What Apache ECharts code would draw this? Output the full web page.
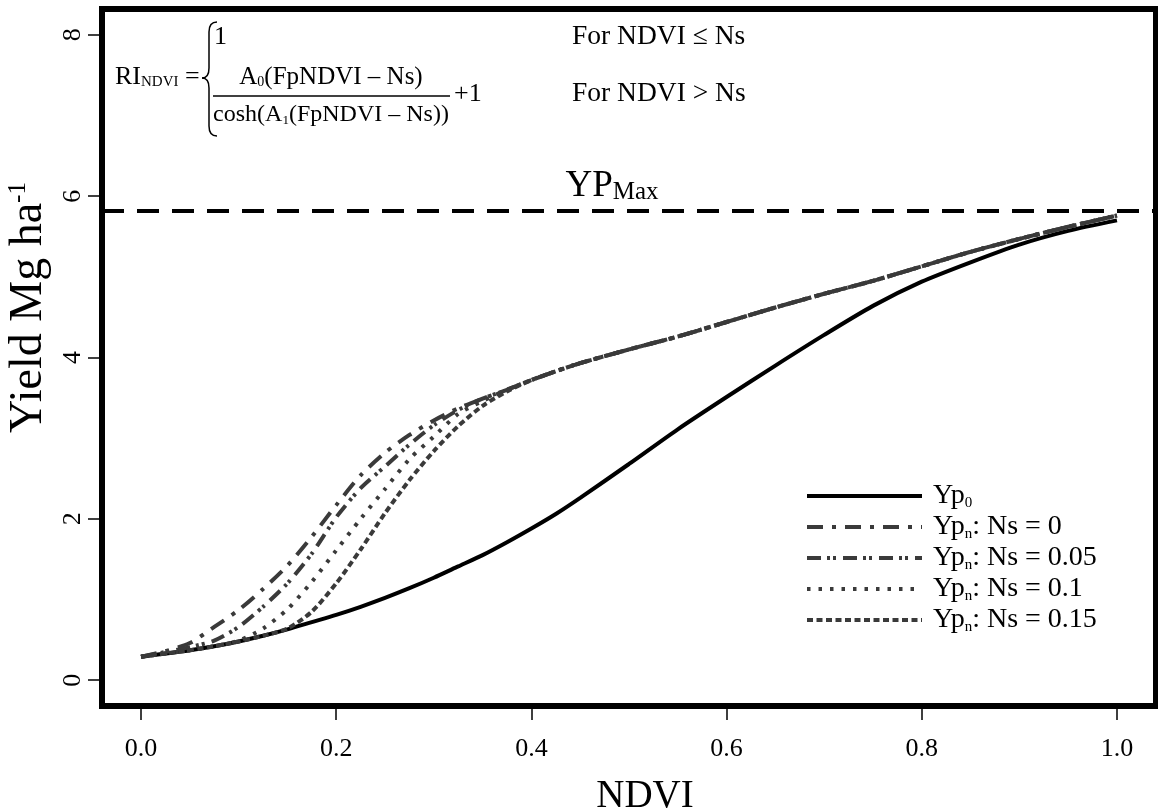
<!DOCTYPE html>
<html>
<head>
<meta charset="utf-8">
<script src="https://cdn.jsdelivr.net/npm/echarts@6/dist/echarts.min.js"></script>
<style>
    html, body { margin: 0; padding: 0; background: #fff; }
    #chart { width: 1158px; height: 812px; }
</style>
</head>
<body>
<div id="chart"></div>
<script>
    // values
    var ndvi = [0, 0.025, 0.05, 0.075, 0.1, 0.125, 0.15, 0.175, 0.2, 0.225, 0.25, 0.275, 0.3, 0.325, 0.35,
        0.375, 0.4, 0.425, 0.45, 0.5, 0.55, 0.6, 0.65, 0.7, 0.75, 0.8, 0.85, 0.9, 0.95, 1.0];
    var yp0 = [0.29, 0.33, 0.37, 0.42, 0.48, 0.55, 0.63, 0.72, 0.81, 0.91, 1.02, 1.14, 1.27, 1.41, 1.55,
        1.71, 1.88, 2.06, 2.26, 2.68, 3.11, 3.51, 3.90, 4.28, 4.64, 4.94, 5.18, 5.40, 5.57, 5.70];
    var ypNs0 = [0.29, 0.36, 0.46, 0.66, 0.87, 1.13, 1.42, 1.78, 2.17, 2.54, 2.82, 3.04, 3.22, 3.37, 3.49,
        3.60, 3.72, 3.83, 3.93, 4.10, 4.26, 4.44, 4.62, 4.79, 4.95, 5.13, 5.31, 5.47, 5.62, 5.76];
    var ypNs005 = [0.29, 0.35, 0.41, 0.49, 0.66, 0.91, 1.20, 1.57, 2.02, 2.38, 2.65, 2.92, 3.16, 3.35, 3.49,
        3.60, 3.72, 3.83, 3.93, 4.10, 4.26, 4.44, 4.62, 4.79, 4.95, 5.13, 5.31, 5.47, 5.62, 5.76];
    var ypNs01 = [0.29, 0.33, 0.37, 0.42, 0.49, 0.64, 0.88, 1.22, 1.61, 2.00, 2.37, 2.74, 3.02, 3.30, 3.46,
        3.60, 3.72, 3.83, 3.93, 4.10, 4.26, 4.44, 4.62, 4.79, 4.95, 5.13, 5.31, 5.47, 5.62, 5.76];
    var ypNs015 = [0.29, 0.33, 0.37, 0.42, 0.48, 0.55, 0.64, 0.85, 1.20, 1.62, 2.07, 2.48, 2.84, 3.15, 3.40,
        3.58, 3.72, 3.83, 3.93, 4.10, 4.26, 4.44, 4.62, 4.79, 4.95, 5.13, 5.31, 5.47, 5.62, 5.76];
    var ypMax = 5.82;
    var xTicks = [0, 0.2, 0.4, 0.6, 0.8, 1.0];
    var yTicks = [0, 2, 4, 6, 8];
    var seriesNames = ['Yp0', 'Ypn: Ns = 0', 'Ypn: Ns = 0.05', 'Ypn: Ns = 0.1', 'Ypn: Ns = 0.15'];

    var SERIF = '"Liberation Serif", "Times New Roman", serif';
    var GREY = '#3a3a3a';

    function pairs(ys) {
        return ndvi.map(function (x, i) { return [x, ys[i]]; });
    }

    function curve(name, ys, color, dash) {
        return {
            name: name,
            type: 'line',
            data: pairs(ys),
            smooth: 0.25,
            symbol: 'none',
            lineStyle: { color: color, width: 4, type: dash, cap: 'butt' },
            itemStyle: { color: color }
        };
    }

    function txt(x, y, text, align, size) {
        size = size || 25;
        return {
            type: 'text', x: x, y: y,
            style: {
                text: text, fill: '#000', fontFamily: SERIF, fontSize: size,
                align: align || 'left', verticalAlign: 'middle',
                rich: {
                    n: { fontFamily: SERIF, fontSize: size, color: '#000' },
                    s: { fontFamily: SERIF, fontSize: Math.round(size * 0.56), color: '#000', verticalAlign: 'bottom' }
                }
            }
        };
    }

    function stroke(type, shape) {
        return { type: type, shape: shape, style: { fill: 'none', stroke: '#000', lineWidth: 1.5 } };
    }

    var chart = echarts.init(document.getElementById('chart'));
    var yp0Series = curve(seriesNames[0], yp0, '#000', 'solid');
    yp0Series.z = 3;
    yp0Series.markLine = {
        silent: true,
        symbol: 'none',
        animation: false,
        lineStyle: { color: '#000', width: 4, type: [22, 13] },
        label: {
            show: true,
            position: 'insideMiddleTop',
            distance: 6,
            padding: [0, 34, 0, 0],
            formatter: '{a|YP}{b|Max}',
            rich: {
                a: { fontFamily: SERIF, fontSize: 37, color: '#000' },
                b: { fontFamily: SERIF, fontSize: 25, color: '#000', verticalAlign: 'bottom' }
            }
        },
        data: [{ yAxis: ypMax }]
    };

    chart.setOption({
        animation: false,
        backgroundColor: '#fff',
        grid: {
            left: 102, right: 2, top: 9, bottom: 106,
            show: true, borderColor: '#000', borderWidth: 6,
            backgroundColor: 'transparent',
            outerBoundsMode: 'none'
        },
        xAxis: {
            type: 'value', min: -0.04, max: 1.04,
            name: 'NDVI', nameLocation: 'middle', nameGap: 71,
            nameTextStyle: { fontFamily: SERIF, fontSize: 39, color: '#000', padding: [0, 0, 0, 32] },
            axisLine: { show: false, onZero: false },
            splitLine: { show: false },
            axisTick: { show: true, customValues: xTicks, length: 14, lineStyle: { color: '#000', width: 1.5 } },
            axisLabel: {
                customValues: xTicks, margin: 30, color: '#000', fontFamily: SERIF, fontSize: 26,
                formatter: function (v) { return v.toFixed(1); }
            }
        },
        yAxis: {
            type: 'value', min: -0.32, max: 8.32,
            name: '{n|Yield Mg ha}{p|-1}', nameLocation: 'middle', nameGap: 31, nameRotate: 90,
            nameTextStyle: {
                padding: [0, 0, 0, 100],
                rich: {
                    n: { fontFamily: SERIF, fontSize: 46, color: '#000' },
                    p: { fontFamily: SERIF, fontSize: 25, color: '#000', verticalAlign: 'top' }
                }
            },
            axisLine: { show: false, onZero: false },
            splitLine: { show: false },
            axisTick: { show: true, customValues: yTicks, length: 14, lineStyle: { color: '#000', width: 1.5 } },
            axisLabel: {
                customValues: yTicks, rotate: 90, margin: 16, color: '#000', fontFamily: SERIF, fontSize: 26,
                formatter: function (v) { return String(v); }
            }
        },
        legend: {
            orient: 'vertical', left: 805, top: 482, padding: 0,
            itemWidth: 115, itemHeight: 14, itemGap: 2,
            data: seriesNames,
            itemStyle: { color: 'transparent', borderWidth: 0, opacity: 0 },
            lineStyle: { width: 4 },
            formatter: function (name) {
                var rest = name.slice(3);
                return '{m|Yp}{s|' + name.charAt(2) + '}' + (rest ? '{m|' + rest + '}' : '');
            },
            textStyle: {
                padding: [0, 0, 0, 6],
                rich: {
                    m: { fontFamily: SERIF, fontSize: 28, color: '#000', lineHeight: 30 },
                    s: { fontFamily: SERIF, fontSize: 15, color: '#000', lineHeight: 15, verticalAlign: 'bottom' }
                }
            }
        },
        graphic: [
            txt(115, 77, '{n|RI}{s|NDVI}{n| =}', 'left', 26),
            // the curly brace of the piecewise formula
            stroke('bezierCurve', { x1: 217, y1: 22, x2: 209, y2: 32, cpx1: 209, cpy1: 22 }),
            stroke('line', { x1: 209, y1: 32, x2: 209, y2: 68 }),
            stroke('bezierCurve', { x1: 209, y1: 68, x2: 202, y2: 78, cpx1: 209, cpy1: 78 }),
            stroke('bezierCurve', { x1: 202, y1: 78, x2: 209, y2: 88, cpx1: 209, cpy1: 78 }),
            stroke('line', { x1: 209, y1: 88, x2: 209, y2: 126 }),
            stroke('bezierCurve', { x1: 209, y1: 126, x2: 217, y2: 136, cpx1: 209, cpy1: 136 }),
            txt(214, 37, '1', 'left', 26),
            txt(572, 37, 'For NDVI ≤ Ns', 'left', 27.5),
            txt(331, 77, '{n|A}{s|0}{n|(FpNDVI – Ns)}', 'center', 25),
            stroke('line', { x1: 213, y1: 96, x2: 450, y2: 96 }),
            txt(331, 115, '{n|cosh(A}{s|1}{n|(FpNDVI – Ns))}', 'center', 24),
            txt(454, 94, '+1', 'left', 26),
            txt(572, 94, 'For NDVI > Ns', 'left', 27.5)
        ],
        series: [
            yp0Series,
            curve(seriesNames[1], ypNs0, GREY, [16, 9, 4, 9]),
            curve(seriesNames[2], ypNs005, GREY, [14, 6, 3, 3, 3, 7]),
            curve(seriesNames[3], ypNs01, GREY, [3.5, 8]),
            curve(seriesNames[4], ypNs015, GREY, [6, 3.5])
        ]
    });
</script>
</body>
</html>
